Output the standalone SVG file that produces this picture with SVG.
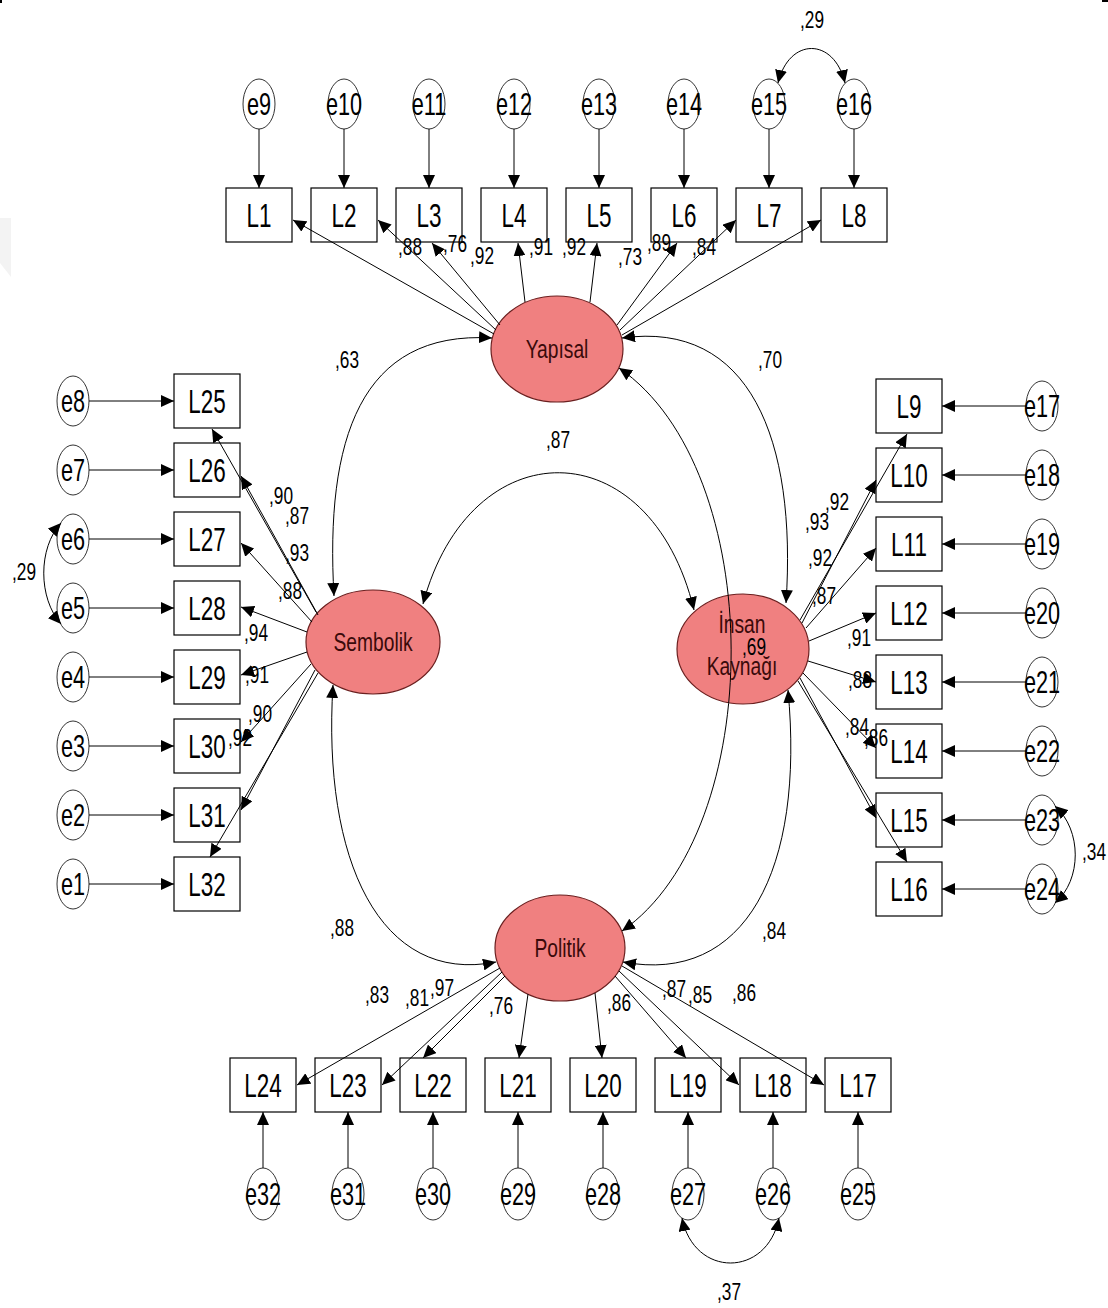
<svg xmlns="http://www.w3.org/2000/svg" width="1108" height="1308" viewBox="0 0 1108 1308">
  <defs>
    <marker id="ah" viewBox="0 0 13 12" refX="13" refY="6" markerWidth="13" markerHeight="12" markerUnits="userSpaceOnUse" orient="auto-start-reverse">
      <path d="M0,0 L13,6 L0,12 z" fill="#000"/>
    </marker>
    <style>
      .box { fill: #fff; stroke: #000; stroke-width: 1.2; }
      .err { fill: #fff; stroke: #333; stroke-width: 1; }
      .lat { fill: #F08080; stroke: #6b1f1f; stroke-width: 1.2; }
      .lnk { fill: none; stroke: #000; stroke-width: 1; marker-end: url(#ah); }
      .cov { fill: none; stroke: #000; stroke-width: 1; marker-start: url(#ah); marker-end: url(#ah); }
      text { font-family: "Liberation Sans", Arial, sans-serif; text-anchor: middle; fill: #000;
             transform-box: fill-box; transform-origin: center; }
      .te { font-size: 31px; transform: scaleX(0.7); }
      .tl { font-size: 34px; transform: scaleX(0.66); }
      .tv { font-size: 26px; transform: scaleX(0.74); fill: #3a0a0a; }
      .tn { font-size: 24px; transform: scaleX(0.72); }
    </style>
  </defs>

  <rect x="0" y="0" width="1108" height="1308" fill="#fff"/>
  <!-- page edge marks -->
  <rect x="0" y="0" width="2" height="3" fill="#000"/>
  <rect x="1102" y="0" width="6" height="2" fill="#000"/>
  <polygon points="0,218 11,218 11,277 0,263" fill="#f3f3f3"/>

  <!-- latent variables -->
  <g id="Yapisal"><ellipse class="lat" cx="557" cy="349" rx="66" ry="53"/><text class="tv" x="557" y="358">Yapısal</text></g>
  <g id="Sembolik"><ellipse class="lat" cx="373" cy="642" rx="67" ry="52"/><text class="tv" x="373" y="651">Sembolik</text></g>
  <g id="InsanKaynagi"><ellipse class="lat" cx="743" cy="649" rx="66" ry="55"/><text class="tv" x="742" y="633">İnsan</text><text class="tv" x="742" y="675">Kaynağı</text></g>
  <g id="Politik"><ellipse class="lat" cx="560" cy="948" rx="65" ry="53"/><text class="tv" x="560" y="957">Politik</text></g>

  <!-- top indicators L1-L8 and errors e9-e16 -->
  <g id="L1"><rect class="box" x="226" y="188" width="66" height="54"/><text class="tl" x="259" y="227">L1</text></g>
  <g id="L2"><rect class="box" x="311" y="188" width="66" height="54"/><text class="tl" x="344" y="227">L2</text></g>
  <g id="L3"><rect class="box" x="396" y="188" width="66" height="54"/><text class="tl" x="429" y="227">L3</text></g>
  <g id="L4"><rect class="box" x="481" y="188" width="66" height="54"/><text class="tl" x="514" y="227">L4</text></g>
  <g id="L5"><rect class="box" x="566" y="188" width="66" height="54"/><text class="tl" x="599" y="227">L5</text></g>
  <g id="L6"><rect class="box" x="651" y="188" width="66" height="54"/><text class="tl" x="684" y="227">L6</text></g>
  <g id="L7"><rect class="box" x="736" y="188" width="66" height="54"/><text class="tl" x="769" y="227">L7</text></g>
  <g id="L8"><rect class="box" x="821" y="188" width="66" height="54"/><text class="tl" x="854" y="227">L8</text></g>
  <g id="e9"><ellipse class="err" cx="259" cy="104" rx="16" ry="25"/><text class="te" x="259" y="115">e9</text></g>
  <g id="e10"><ellipse class="err" cx="344" cy="104" rx="16" ry="25"/><text class="te" x="344" y="115">e10</text></g>
  <g id="e11"><ellipse class="err" cx="429" cy="104" rx="16" ry="25"/><text class="te" x="429" y="115">e11</text></g>
  <g id="e12"><ellipse class="err" cx="514" cy="104" rx="16" ry="25"/><text class="te" x="514" y="115">e12</text></g>
  <g id="e13"><ellipse class="err" cx="599" cy="104" rx="16" ry="25"/><text class="te" x="599" y="115">e13</text></g>
  <g id="e14"><ellipse class="err" cx="684" cy="104" rx="16" ry="25"/><text class="te" x="684" y="115">e14</text></g>
  <g id="e15"><ellipse class="err" cx="769" cy="104" rx="16" ry="25"/><text class="te" x="769" y="115">e15</text></g>
  <g id="e16"><ellipse class="err" cx="854" cy="104" rx="16" ry="25"/><text class="te" x="854" y="115">e16</text></g>

  <!-- left indicators L25-L32 and errors e8-e1 -->
  <g id="L25"><rect class="box" x="174" y="374" width="66" height="54"/><text class="tl" x="207" y="413">L25</text></g>
  <g id="L26"><rect class="box" x="174" y="443" width="66" height="54"/><text class="tl" x="207" y="482">L26</text></g>
  <g id="L27"><rect class="box" x="174" y="512" width="66" height="54"/><text class="tl" x="207" y="551">L27</text></g>
  <g id="L28"><rect class="box" x="174" y="581" width="66" height="54"/><text class="tl" x="207" y="620">L28</text></g>
  <g id="L29"><rect class="box" x="174" y="650" width="66" height="54"/><text class="tl" x="207" y="689">L29</text></g>
  <g id="L30"><rect class="box" x="174" y="719" width="66" height="54"/><text class="tl" x="207" y="758">L30</text></g>
  <g id="L31"><rect class="box" x="174" y="788" width="66" height="54"/><text class="tl" x="207" y="827">L31</text></g>
  <g id="L32"><rect class="box" x="174" y="857" width="66" height="54"/><text class="tl" x="207" y="896">L32</text></g>
  <g id="e8"><ellipse class="err" cx="73" cy="401" rx="16" ry="25"/><text class="te" x="73" y="412">e8</text></g>
  <g id="e7"><ellipse class="err" cx="73" cy="470" rx="16" ry="25"/><text class="te" x="73" y="481">e7</text></g>
  <g id="e6"><ellipse class="err" cx="73" cy="539" rx="16" ry="25"/><text class="te" x="73" y="550">e6</text></g>
  <g id="e5"><ellipse class="err" cx="73" cy="608" rx="16" ry="25"/><text class="te" x="73" y="619">e5</text></g>
  <g id="e4"><ellipse class="err" cx="73" cy="677" rx="16" ry="25"/><text class="te" x="73" y="688">e4</text></g>
  <g id="e3"><ellipse class="err" cx="73" cy="746" rx="16" ry="25"/><text class="te" x="73" y="757">e3</text></g>
  <g id="e2"><ellipse class="err" cx="73" cy="815" rx="16" ry="25"/><text class="te" x="73" y="826">e2</text></g>
  <g id="e1"><ellipse class="err" cx="73" cy="884" rx="16" ry="25"/><text class="te" x="73" y="895">e1</text></g>

  <!-- right indicators L9-L16 and errors e17-e24 -->
  <g id="L9"><rect class="box" x="876" y="379" width="66" height="54"/><text class="tl" x="909" y="418">L9</text></g>
  <g id="L10"><rect class="box" x="876" y="448" width="66" height="54"/><text class="tl" x="909" y="487">L10</text></g>
  <g id="L11"><rect class="box" x="876" y="517" width="66" height="54"/><text class="tl" x="909" y="556">L11</text></g>
  <g id="L12"><rect class="box" x="876" y="586" width="66" height="54"/><text class="tl" x="909" y="625">L12</text></g>
  <g id="L13"><rect class="box" x="876" y="655" width="66" height="54"/><text class="tl" x="909" y="694">L13</text></g>
  <g id="L14"><rect class="box" x="876" y="724" width="66" height="54"/><text class="tl" x="909" y="763">L14</text></g>
  <g id="L15"><rect class="box" x="876" y="793" width="66" height="54"/><text class="tl" x="909" y="832">L15</text></g>
  <g id="L16"><rect class="box" x="876" y="862" width="66" height="54"/><text class="tl" x="909" y="901">L16</text></g>
  <g id="e17"><ellipse class="err" cx="1042" cy="406" rx="16" ry="25"/><text class="te" x="1042" y="417">e17</text></g>
  <g id="e18"><ellipse class="err" cx="1042" cy="475" rx="16" ry="25"/><text class="te" x="1042" y="486">e18</text></g>
  <g id="e19"><ellipse class="err" cx="1042" cy="544" rx="16" ry="25"/><text class="te" x="1042" y="555">e19</text></g>
  <g id="e20"><ellipse class="err" cx="1042" cy="613" rx="16" ry="25"/><text class="te" x="1042" y="624">e20</text></g>
  <g id="e21"><ellipse class="err" cx="1042" cy="682" rx="16" ry="25"/><text class="te" x="1042" y="693">e21</text></g>
  <g id="e22"><ellipse class="err" cx="1042" cy="751" rx="16" ry="25"/><text class="te" x="1042" y="762">e22</text></g>
  <g id="e23"><ellipse class="err" cx="1042" cy="820" rx="16" ry="25"/><text class="te" x="1042" y="831">e23</text></g>
  <g id="e24"><ellipse class="err" cx="1042" cy="889" rx="16" ry="25"/><text class="te" x="1042" y="900">e24</text></g>

  <!-- bottom indicators L24-L17 and errors e32-e25 -->
  <g id="L24"><rect class="box" x="230" y="1058" width="66" height="54"/><text class="tl" x="263" y="1097">L24</text></g>
  <g id="L23"><rect class="box" x="315" y="1058" width="66" height="54"/><text class="tl" x="348" y="1097">L23</text></g>
  <g id="L22"><rect class="box" x="400" y="1058" width="66" height="54"/><text class="tl" x="433" y="1097">L22</text></g>
  <g id="L21"><rect class="box" x="485" y="1058" width="66" height="54"/><text class="tl" x="518" y="1097">L21</text></g>
  <g id="L20"><rect class="box" x="570" y="1058" width="66" height="54"/><text class="tl" x="603" y="1097">L20</text></g>
  <g id="L19"><rect class="box" x="655" y="1058" width="66" height="54"/><text class="tl" x="688" y="1097">L19</text></g>
  <g id="L18"><rect class="box" x="740" y="1058" width="66" height="54"/><text class="tl" x="773" y="1097">L18</text></g>
  <g id="L17"><rect class="box" x="825" y="1058" width="66" height="54"/><text class="tl" x="858" y="1097">L17</text></g>
  <g id="e32"><ellipse class="err" cx="263" cy="1194" rx="16" ry="26"/><text class="te" x="263" y="1205">e32</text></g>
  <g id="e31"><ellipse class="err" cx="348" cy="1194" rx="16" ry="26"/><text class="te" x="348" y="1205">e31</text></g>
  <g id="e30"><ellipse class="err" cx="433" cy="1194" rx="16" ry="26"/><text class="te" x="433" y="1205">e30</text></g>
  <g id="e29"><ellipse class="err" cx="518" cy="1194" rx="16" ry="26"/><text class="te" x="518" y="1205">e29</text></g>
  <g id="e28"><ellipse class="err" cx="603" cy="1194" rx="16" ry="26"/><text class="te" x="603" y="1205">e28</text></g>
  <g id="e27"><ellipse class="err" cx="688" cy="1194" rx="16" ry="26"/><text class="te" x="688" y="1205">e27</text></g>
  <g id="e26"><ellipse class="err" cx="773" cy="1194" rx="16" ry="26"/><text class="te" x="773" y="1205">e26</text></g>
  <g id="e25"><ellipse class="err" cx="858" cy="1194" rx="16" ry="26"/><text class="te" x="858" y="1205">e25</text></g>

  <g id="connectors">
    <!-- error terms to indicators: top row -->
    <path class="lnk" d="M259,129V188"/>
    <path class="lnk" d="M344,129V188"/>
    <path class="lnk" d="M429,129V188"/>
    <path class="lnk" d="M514,129V188"/>
    <path class="lnk" d="M599,129V188"/>
    <path class="lnk" d="M684,129V188"/>
    <path class="lnk" d="M769,129V188"/>
    <path class="lnk" d="M854,129V188"/>
    <!-- left column -->
    <path class="lnk" d="M89,401H174"/>
    <path class="lnk" d="M89,470H174"/>
    <path class="lnk" d="M89,539H174"/>
    <path class="lnk" d="M89,608H174"/>
    <path class="lnk" d="M89,677H174"/>
    <path class="lnk" d="M89,746H174"/>
    <path class="lnk" d="M89,815H174"/>
    <path class="lnk" d="M89,884H174"/>
    <!-- right column -->
    <path class="lnk" d="M1026,406H942"/>
    <path class="lnk" d="M1026,475H942"/>
    <path class="lnk" d="M1026,544H942"/>
    <path class="lnk" d="M1026,613H942"/>
    <path class="lnk" d="M1026,682H942"/>
    <path class="lnk" d="M1026,751H942"/>
    <path class="lnk" d="M1026,820H942"/>
    <path class="lnk" d="M1026,889H942"/>
    <!-- bottom row -->
    <path class="lnk" d="M263,1168V1112"/>
    <path class="lnk" d="M348,1168V1112"/>
    <path class="lnk" d="M433,1168V1112"/>
    <path class="lnk" d="M518,1168V1112"/>
    <path class="lnk" d="M603,1168V1112"/>
    <path class="lnk" d="M688,1168V1112"/>
    <path class="lnk" d="M773,1168V1112"/>
    <path class="lnk" d="M858,1168V1112"/>

    <!-- Yapısal loadings -->
    <path class="lnk" d="M494,334L293,220"/>
    <path class="lnk" d="M496,330L378,220"/>
    <path class="lnk" d="M500,325L432,243"/>
    <path class="lnk" d="M525,302L518,243"/>
    <path class="lnk" d="M590,302L597,243"/>
    <path class="lnk" d="M617,325L677,243"/>
    <path class="lnk" d="M620,330L736,220"/>
    <path class="lnk" d="M622,335L821,220"/>

    <!-- Sembolik loadings -->
    <path class="lnk" d="M316,612L212,429"/>
    <path class="lnk" d="M318,615L241,476"/>
    <path class="lnk" d="M312,622L241,543"/>
    <path class="lnk" d="M307,632L241,607"/>
    <path class="lnk" d="M307,652L241,675"/>
    <path class="lnk" d="M311,664L241,742"/>
    <path class="lnk" d="M315,670L241,810"/>
    <path class="lnk" d="M318,673L210,857"/>

    <!-- İnsan Kaynağı loadings -->
    <path class="lnk" d="M800,620L907,434"/>
    <path class="lnk" d="M802,623L876,480"/>
    <path class="lnk" d="M806,628L876,548"/>
    <path class="lnk" d="M809,641L876,613"/>
    <path class="lnk" d="M808,661L876,682"/>
    <path class="lnk" d="M803,673L876,748"/>
    <path class="lnk" d="M800,678L876,818"/>
    <path class="lnk" d="M798,681L907,862"/>

    <!-- Politik loadings -->
    <path class="lnk" d="M500,968L297,1085"/>
    <path class="lnk" d="M502,972L382,1085"/>
    <path class="lnk" d="M505,976L423,1058"/>
    <path class="lnk" d="M528,994L519,1058"/>
    <path class="lnk" d="M595,993L602,1058"/>
    <path class="lnk" d="M615,976L686,1058"/>
    <path class="lnk" d="M619,971L739,1085"/>
    <path class="lnk" d="M622,966L824,1085"/>

    <!-- factor covariances -->
    <path class="cov" d="M492,338C360,330 325,440 334,596"/>
    <path class="cov" d="M622,338C750,320 797,440 786,603"/>
    <path class="cov" d="M423,604C470,428 650,428 694,610"/>
    <path class="cov" d="M333,685C322,860 380,985 496,962"/>
    <path class="cov" d="M788,690C805,870 745,985 623,962"/>
    <path class="cov" d="M619,368C768,470 768,830 622,931"/>

    <!-- error covariances -->
    <path class="cov" d="M778,83C789,37 834,37 845,83"/>
    <path class="cov" d="M61,523C38,548 38,598 61,624"/>
    <path class="cov" d="M1055,806C1082,830 1082,880 1055,903"/>
    <path class="cov" d="M682,1218C694,1278 767,1278 779,1218"/>
  </g>

  <g id="estimates">
    <text class="tn" x="812" y="28">,29</text>
    <text class="tn" x="410" y="255">,88</text>
    <text class="tn" x="455" y="252">,76</text>
    <text class="tn" x="482" y="264">,92</text>
    <text class="tn" x="541" y="255">,91</text>
    <text class="tn" x="574" y="255">,92</text>
    <text class="tn" x="630" y="265">,73</text>
    <text class="tn" x="659" y="251">,89</text>
    <text class="tn" x="704" y="255">,84</text>

    <text class="tn" x="347" y="368">,63</text>
    <text class="tn" x="770" y="368">,70</text>
    <text class="tn" x="558" y="448">,87</text>
    <text class="tn" x="754" y="655">,69</text>
    <text class="tn" x="342" y="936">,88</text>
    <text class="tn" x="774" y="939">,84</text>

    <text class="tn" x="24" y="580">,29</text>
    <text class="tn" x="281" y="504">,90</text>
    <text class="tn" x="297" y="524">,87</text>
    <text class="tn" x="297" y="561">,93</text>
    <text class="tn" x="290" y="599">,88</text>
    <text class="tn" x="256" y="641">,94</text>
    <text class="tn" x="257" y="683">,91</text>
    <text class="tn" x="260" y="722">,90</text>
    <text class="tn" x="240" y="746">,92</text>

    <text class="tn" x="837" y="510">,92</text>
    <text class="tn" x="817" y="530">,93</text>
    <text class="tn" x="820" y="566">,92</text>
    <text class="tn" x="824" y="604">,87</text>
    <text class="tn" x="859" y="646">,91</text>
    <text class="tn" x="860" y="688">,88</text>
    <text class="tn" x="857" y="735">,84</text>
    <text class="tn" x="876" y="746">,86</text>
    <text class="tn" x="1094" y="860">,34</text>

    <text class="tn" x="377" y="1003">,83</text>
    <text class="tn" x="417" y="1006">,81</text>
    <text class="tn" x="442" y="996">,97</text>
    <text class="tn" x="501" y="1014">,76</text>
    <text class="tn" x="619" y="1011">,86</text>
    <text class="tn" x="674" y="997">,87</text>
    <text class="tn" x="700" y="1003">,85</text>
    <text class="tn" x="744" y="1001">,86</text>
    <text class="tn" x="729" y="1300">,37</text>
  </g>
</svg>
